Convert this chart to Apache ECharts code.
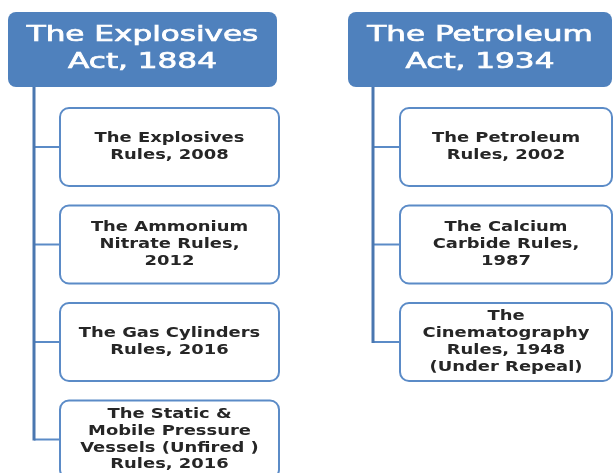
<!DOCTYPE html>
<html>
<head>
<meta charset="utf-8">
<script src="https://cdn.jsdelivr.net/npm/echarts@6/dist/echarts.min.js"></script>
<style>
  html, body { margin: 0; padding: 0; background: #fff; }
  #chart { width: 613px; height: 473px; }
</style>
</head>
<body>
<div id="chart"></div>
<script>
// acts (top boxes) and the rules under each act
const acts = ['The Explosives\nAct, 1884', 'The Petroleum\nAct, 1934']
const explosivesRules = [
  'The Explosives\nRules, 2008',
  'The Ammonium\nNitrate Rules,\n2012',
  'The Gas Cylinders\nRules, 2016',
  'The Static &\nMobile Pressure\nVessels (Unfired )\nRules, 2016'
]
const petroleumRules = [
  'The Petroleum\nRules, 2002',
  'The Calcium\nCarbide Rules,\n1987',
  'The\nCinematography\nRules, 1948\n(Under Repeal)'
]

const blue = '#4F81BD'
const columns = [
  { act: acts[0], rules: explosivesRules, x: 8, w: 269, spine: 34, boxX: 60, boxW: 219 },
  { act: acts[1], rules: petroleumRules, x: 348, w: 264, spine: 373, boxX: 400, boxW: 212 }
]

const chart = echarts.init(document.getElementById('chart'))
const elements = []

columns.forEach(col => {
  // header box
  elements.push({
    type: 'rect',
    shape: { x: col.x, y: 12, width: col.w, height: 75, r: 8 },
    style: { fill: blue }
  })
  elements.push({
    type: 'text',
    x: col.x + col.w / 2,
    y: 49.5,
    scaleX: 1.48,
    style: {
      text: col.act,
      fill: '#fff',
      stroke: '#fff',
      lineWidth: 0.7,
      font: '21px "DejaVu Sans"',
      lineHeight: 27,
      align: 'center',
      verticalAlign: 'middle'
    }
  })

  let lastY = 87
  col.rules.forEach((rule, i) => {
    const top = 108 + i * 97.5
    const mid = top + 39
    lastY = mid
    elements.push({
      type: 'line',
      shape: { x1: col.spine, y1: mid, x2: col.boxX, y2: mid },
      style: { stroke: '#5B8BC7', lineWidth: 2 }
    })
    elements.push({
      type: 'rect',
      shape: { x: col.boxX, y: top, width: col.boxW, height: 78, r: 9 },
      style: { fill: '#fff', stroke: '#5B8BC7', lineWidth: 2 }
    })
    elements.push({
      type: 'text',
      x: col.boxX + col.boxW / 2,
      y: mid,
      scaleX: 1.28,
      style: {
        text: rule,
        fill: '#262626',
        font: 'bold 14px "DejaVu Sans"',
        lineHeight: 16.8,
        align: 'center',
        verticalAlign: 'middle'
      }
    })
  })

  // vertical spine
  elements.push({
    type: 'line',
    shape: { x1: col.spine, y1: 87, x2: col.spine, y2: lastY + 1 },
    style: { stroke: '#4A77B0', lineWidth: 3 }
  })
})

chart.setOption({
  animation: false,
  graphic: { elements: elements }
})
</script>
</body>
</html>
